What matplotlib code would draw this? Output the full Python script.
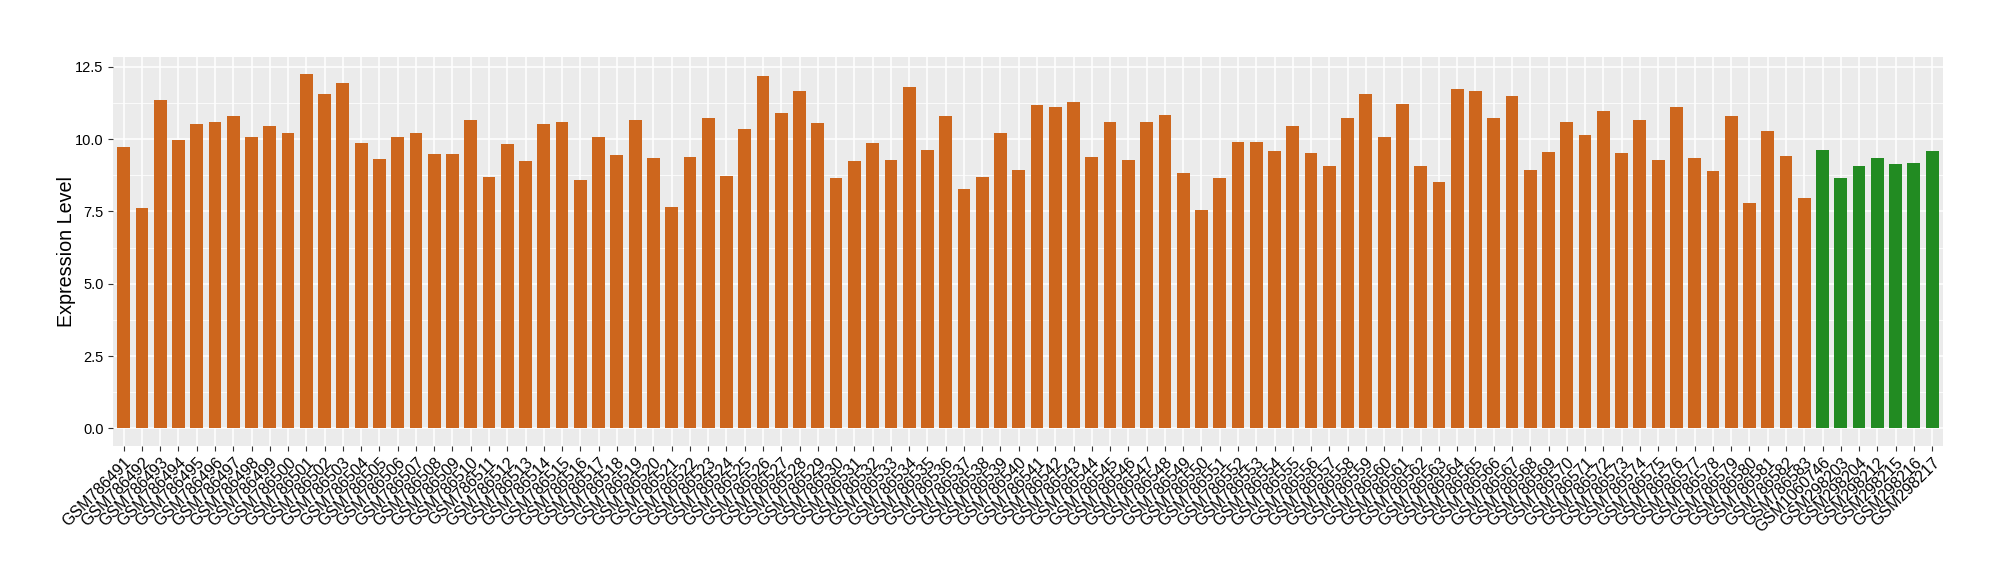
import matplotlib
matplotlib.use("Agg")
import matplotlib.pyplot as plt
from matplotlib.ticker import MultipleLocator

plt.rcParams['font.family'] = ['Liberation Sans', 'DejaVu Sans']

samples_a = [f"GSM{n}" for n in range(786491, 786584)]
samples_b = ["GSM1060746", "GSM298203", "GSM298204", "GSM298212",
             "GSM298215", "GSM298216", "GSM298217"]

values_a = [
    9.72, 7.61, 11.34, 9.96, 10.51, 10.58, 10.79, 10.06, 10.44, 10.20,
    12.24, 11.58, 11.93, 9.86, 9.30, 10.06, 10.23, 9.48, 9.48, 10.68,
    8.68, 9.82, 9.23, 10.51, 10.61, 8.58, 10.06, 9.44, 10.65, 9.34,
    7.65, 9.37, 10.72, 8.72, 10.34, 12.20, 10.92, 11.68, 10.55, 8.65,
    9.23, 9.86, 9.27, 11.82, 9.61, 10.79, 8.27, 8.68, 10.23, 8.92,
    11.17, 11.13, 11.30, 9.37, 10.58, 9.27, 10.61, 10.82, 8.82, 7.54,
    8.65, 9.89, 9.89, 9.58, 10.44, 9.51, 9.06, 10.75, 11.58, 10.06,
    11.20, 9.06, 8.51, 11.75, 11.68, 10.75, 11.48, 8.92, 9.54, 10.61,
    10.13, 10.99, 9.51, 10.65, 9.27, 11.10, 9.34, 8.89, 10.79, 7.79,
    10.30, 9.41, 7.96,
]
values_b = [9.61, 8.65, 9.06, 9.34, 9.13, 9.17, 9.58]

color_a = "#CD661D"
color_b = "#228B22"

labels = samples_a + samples_b
values = values_a + values_b
colors = [color_a] * len(values_a) + [color_b] * len(values_b)

fig = plt.figure(figsize=(20, 5.8), dpi=100)
ax = fig.add_axes([0.05635, 0.2310, 0.9152, 0.6712])
ax.set_facecolor("#EBEBEB")

x = list(range(1, len(values) + 1))
ax.bar(x, values, width=0.7, color=colors, zorder=3)

ax.set_xlim(0.4, len(values) + 0.6)
vmax = max(values)
ax.set_ylim(-0.05 * vmax, vmax * 1.05)
ax.yaxis.set_major_locator(MultipleLocator(2.5))
ax.yaxis.set_minor_locator(MultipleLocator(1.25))
ax.yaxis.set_major_formatter(matplotlib.ticker.FormatStrFormatter('%.1f'))
ax.set_xticks(x)
ax.set_xticklabels(labels, rotation=45, ha="right", rotation_mode="anchor",
                   fontsize=11.5, color="black")
ax.tick_params(axis="y", labelsize=10.5, labelcolor="black")
ax.tick_params(axis="both", which="major", length=3.5, width=0.8,
               color="#333333", pad=3)
ax.tick_params(axis="y", which="minor", length=0)

ax.grid(True, which="major", color="white", linewidth=1.1, zorder=0)
ax.grid(True, which="minor", axis="y", color="white", linewidth=0.55, zorder=0)
ax.set_axisbelow(True)
for s in ax.spines.values():
    s.set_visible(False)

ax.set_ylabel("Expression Level", fontsize=14.2, color="black", labelpad=-1)

fig.savefig("out.png", dpi=100)
